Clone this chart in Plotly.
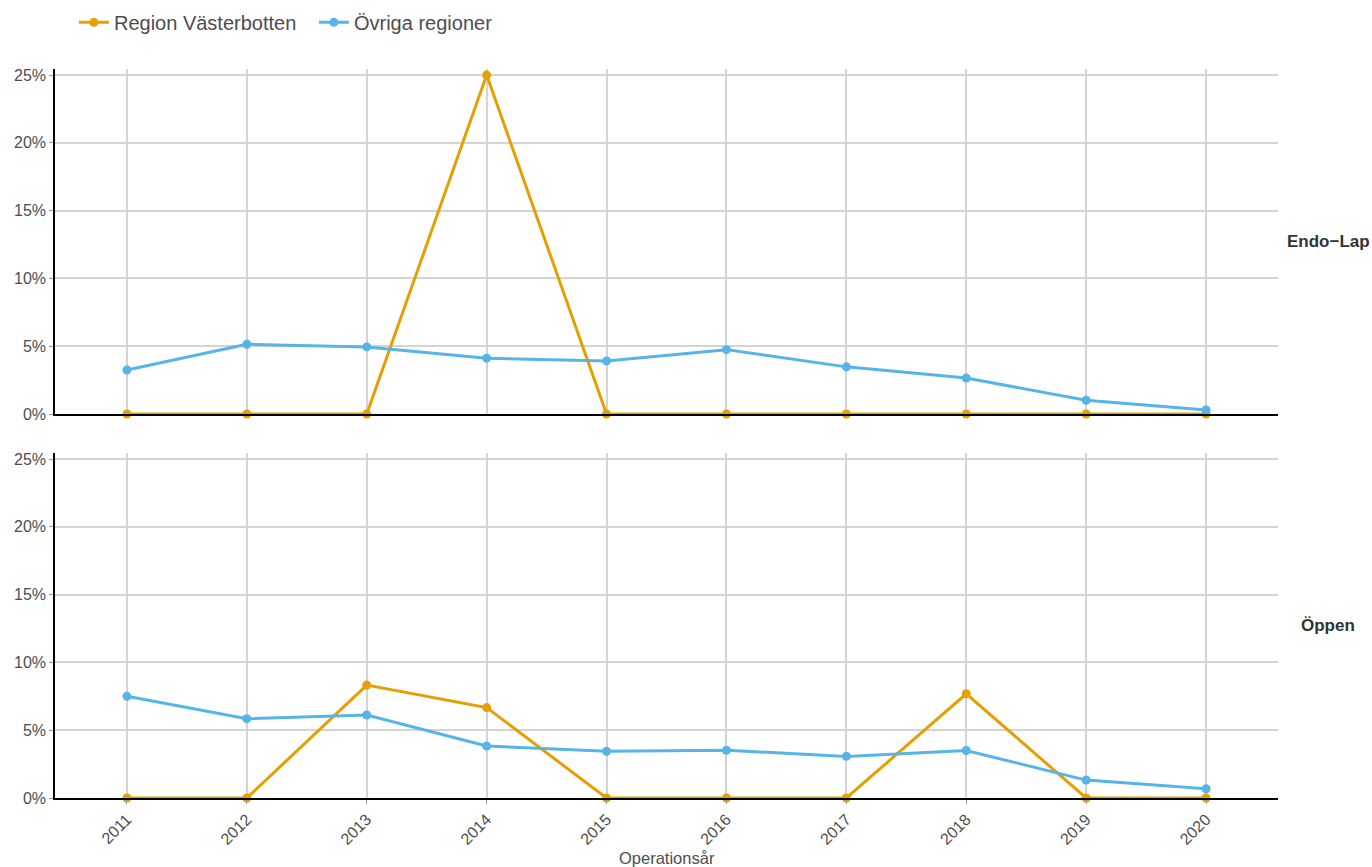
import plotly.graph_objects as go

years = [2011, 2012, 2013, 2014, 2015, 2016, 2017, 2018, 2019, 2020]
y_ticks = [0, 5, 10, 15, 20, 25]
y_labels = ["0%", "5%", "10%", "15%", "20%", "25%"]

# Endo-Lap panel (percent)
endo_vb = [0, 0, 0, 25.0, 0, 0, 0, 0, 0, 0]
endo_ovr = [3.25, 5.15, 4.95, 4.12, 3.92, 4.75, 3.48, 2.65, 1.02, 0.3]

# Öppen panel (percent)
oppen_vb = [0, 0, 8.33, 6.67, 0, 0, 0, 7.69, 0, 0]
oppen_ovr = [7.5, 5.85, 6.12, 3.83, 3.45, 3.52, 3.07, 3.5, 1.32, 0.68]

orange = "#E69F00"
blue = "#56B4E9"
txt = "#4d4d4d"

fig = go.Figure()

panels = [("x", "y", endo_vb, endo_ovr, True), ("x2", "y2", oppen_vb, oppen_ovr, False)]
for xref, yref, vb, ovr, show in panels:
    fig.add_trace(go.Scatter(x=years, y=vb, mode="lines+markers", name="Region Västerbotten",
                             line=dict(color=orange, width=3), marker=dict(size=9, color=orange),
                             xaxis=xref, yaxis=yref, showlegend=show, legendgroup="vb",
                             cliponaxis=False))
    fig.add_trace(go.Scatter(x=years, y=ovr, mode="lines+markers", name="Övriga regioner",
                             line=dict(color=blue, width=3), marker=dict(size=9, color=blue),
                             xaxis=xref, yaxis=yref, showlegend=show, legendgroup="ovr",
                             cliponaxis=False))

ax_common = dict(range=[2010.4, 2020.6], tickvals=years, ticktext=[str(y) for y in years],
                 showgrid=True, gridcolor="#d4d4d4", gridwidth=1.5, showline=True,
                 linecolor="black", linewidth=1.5, zeroline=False,
                 tickfont=dict(size=16, color=txt))
y_common = dict(range=[0, 25.45], tickvals=y_ticks, ticktext=y_labels,
                showgrid=True, gridcolor="#d4d4d4", gridwidth=1.5, showline=True,
                linecolor="black", linewidth=1.5, zeroline=False, ticks="outside", ticklen=4,
                tickcolor="#999999", tickfont=dict(size=16, color=txt))

fig.update_layout(
    width=1372, height=867,
    margin=dict(l=55, r=94, t=69, b=69, autoexpand=False),
    plot_bgcolor="white", paper_bgcolor="white",
    font=dict(family="Liberation Sans, Arial, sans-serif", color=txt),
    xaxis=dict(ax_common, anchor="y", showticklabels=False, ticks=""),
    yaxis=dict(y_common, domain=[0.5267, 1], anchor="x"),
    xaxis2=dict(ax_common, anchor="y2", tickangle=-45, ticks="outside", ticklen=4,
                tickcolor="#999999"),
    yaxis2=dict(y_common, domain=[0, 0.4733], anchor="x2"),
    legend=dict(orientation="h", x=0.0155, y=1.064, xanchor="left", yanchor="middle",
                font=dict(size=20, color=txt), itemwidth=30, tracegroupgap=0,
                entrywidth=195, entrywidthmode="pixels"),
    showlegend=True,
)

fig.add_annotation(text="Operationsår", xref="paper", yref="paper", x=0.5, xanchor="center",
                   y=-0.0823, yanchor="middle", showarrow=False, font=dict(size=16.5, color=txt))
fig.add_annotation(text="<b>Endo−Lap</b>", xref="paper", yref="paper", x=1.0409, xanchor="center",
                   y=0.7633, yanchor="middle", showarrow=False, font=dict(size=17, color="#333333"))
fig.add_annotation(text="<b>Öppen</b>", xref="paper", yref="paper", x=1.0409, xanchor="center",
                   y=0.2367, yanchor="middle", showarrow=False, font=dict(size=17, color="#333333"))

fig.write_html("out.html", config={"displayModeBar": False},
               post_script="document.body.style.margin='0';")
